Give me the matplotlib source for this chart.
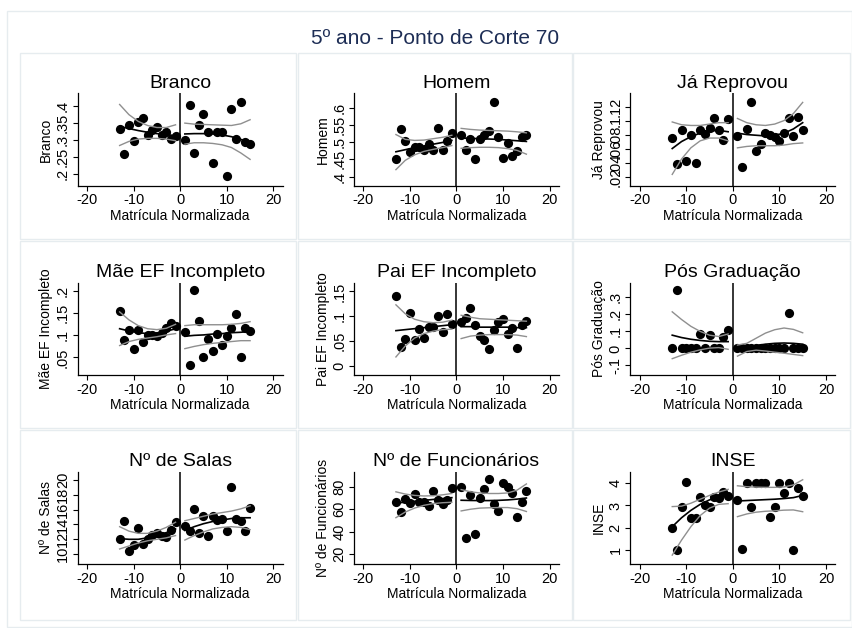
import matplotlib
matplotlib.use("Agg")
import matplotlib.pyplot as plt
from matplotlib.patches import Rectangle

plt.rcParams['font.family'] = ['Liberation Sans', 'DejaVu Sans']

# eixo x (matricula normalizada) comum a todos os paineis
x_esq = [-13, -12, -11, -10, -9, -8, -7, -6, -5, -4, -3, -2, -1]
x_dir = [1, 2, 3, 4, 5, 6, 7, 8, 9, 10, 11, 12, 13, 14, 15]
xf_esq = [-13, -11, -9, -7, -5, -3, -1]      # pontos das curvas ajustadas
xf_dir = [1, 3, 5, 7, 9, 11, 13, 15]

# Branco
branco_esq = [0.332, 0.259, 0.343, 0.298, 0.352, 0.364, 0.315, 0.330, 0.338, 0.315, 0.324, 0.303, 0.312]
branco_dir = [0.300, 0.404, 0.263, 0.345, 0.378, 0.323, 0.231, 0.323, 0.323, 0.193, 0.391, 0.303, 0.413, 0.293, 0.287]
branco_fit_esq = [0.340, 0.334, 0.328, 0.323, 0.319, 0.316, 0.313]
branco_sup_esq = [0.405, 0.375, 0.355, 0.343, 0.337, 0.337, 0.345]
branco_inf_esq = [0.284, 0.296, 0.303, 0.305, 0.305, 0.303, 0.298]
branco_fit_dir = [0.318, 0.319, 0.319, 0.318, 0.315, 0.310, 0.302, 0.292]
branco_sup_dir = [0.350, 0.347, 0.346, 0.345, 0.344, 0.343, 0.348, 0.360]
branco_inf_dir = [0.288, 0.292, 0.292, 0.290, 0.286, 0.278, 0.262, 0.243]

# Homem
homem_esq = [0.452, 0.537, 0.502, 0.471, 0.485, 0.485, 0.477, 0.495, 0.477, 0.540, 0.477, 0.504, 0.527]
homem_dir = [0.522, 0.477, 0.510, 0.452, 0.510, 0.520, 0.533, 0.616, 0.516, 0.453, 0.498, 0.459, 0.475, 0.516, 0.521]
homem_fit_esq = [0.472, 0.478, 0.484, 0.489, 0.494, 0.499, 0.505]
homem_sup_esq = [0.522, 0.508, 0.505, 0.506, 0.510, 0.514, 0.520]
homem_inf_esq = [0.420, 0.447, 0.463, 0.473, 0.479, 0.484, 0.490]
homem_fit_dir = [0.512, 0.511, 0.510, 0.509, 0.508, 0.506, 0.504, 0.502]
homem_sup_dir = [0.540, 0.537, 0.535, 0.534, 0.533, 0.532, 0.530, 0.527]
homem_inf_dir = [0.482, 0.484, 0.485, 0.485, 0.484, 0.481, 0.476, 0.465]

# Ja Reprovou
reprov_esq = [0.075, 0.038, 0.087, 0.042, 0.080, 0.040, 0.086, 0.081, 0.089, 0.103, 0.086, 0.072, 0.102]
reprov_dir = [0.078, 0.033, 0.088, 0.127, 0.057, 0.067, 0.082, 0.080, 0.077, 0.071, 0.082, 0.103, 0.078, 0.105, 0.086]
reprov_fit_esq = [0.060, 0.070, 0.077, 0.082, 0.085, 0.086, 0.084]
reprov_sup_esq = [0.098, 0.094, 0.093, 0.093, 0.095, 0.097, 0.097]
reprov_inf_esq = [0.023, 0.045, 0.061, 0.071, 0.075, 0.075, 0.071]
reprov_fit_dir = [0.082, 0.080, 0.079, 0.078, 0.079, 0.082, 0.088, 0.097]
reprov_sup_dir = [0.103, 0.097, 0.094, 0.093, 0.095, 0.100, 0.110, 0.126]
reprov_inf_dir = [0.061, 0.063, 0.064, 0.064, 0.064, 0.065, 0.067, 0.068]

# Mae EF Incompleto
mae_esq = [0.156, 0.089, 0.112, 0.069, 0.112, 0.085, 0.101, 0.101, 0.098, 0.106, 0.116, 0.127, 0.121]
mae_dir = [0.108, 0.033, 0.202, 0.132, 0.052, 0.091, 0.065, 0.102, 0.078, 0.098, 0.117, 0.148, 0.052, 0.117, 0.110]
mae_fit_esq = [0.115, 0.110, 0.106, 0.104, 0.105, 0.109, 0.115]
mae_sup_esq = [0.153, 0.135, 0.122, 0.115, 0.113, 0.116, 0.125]
mae_inf_esq = [0.077, 0.086, 0.091, 0.094, 0.097, 0.101, 0.104]
mae_fit_dir = [0.098, 0.100, 0.101, 0.103, 0.104, 0.106, 0.107, 0.109]
mae_sup_dir = [0.122, 0.124, 0.124, 0.124, 0.124, 0.125, 0.127, 0.131]
mae_inf_dir = [0.070, 0.075, 0.079, 0.082, 0.084, 0.086, 0.088, 0.088]

# Pai EF Incompleto
pai_esq = [0.141, 0.038, 0.055, 0.106, 0.053, 0.075, 0.056, 0.079, 0.079, 0.101, 0.069, 0.104, 0.085]
pai_dir = [0.089, 0.096, 0.116, 0.082, 0.060, 0.053, 0.033, 0.073, 0.088, 0.094, 0.065, 0.077, 0.036, 0.083, 0.090]
pai_fit_esq = [0.071, 0.073, 0.075, 0.077, 0.079, 0.081, 0.083]
pai_sup_esq = [0.123, 0.105, 0.094, 0.089, 0.087, 0.088, 0.092]
pai_inf_esq = [0.018, 0.040, 0.056, 0.065, 0.070, 0.073, 0.074]
pai_fit_dir = [0.079, 0.079, 0.078, 0.078, 0.078, 0.078, 0.077, 0.077]
pai_sup_dir = [0.102, 0.098, 0.095, 0.094, 0.093, 0.092, 0.091, 0.090]
pai_inf_dir = [0.055, 0.060, 0.062, 0.063, 0.063, 0.063, 0.062, 0.059]

# Pos Graduacao
pos_esq = [0.004, 0.341, 0.004, 0.004, 0.004, 0.004, 0.082, 0.004, 0.078, 0.004, 0.004, 0.069, 0.108]
pos_dir = [0.004, 0.004, 0.004, 0.004, 0.004, 0.004, 0.004, 0.004, 0.004, 0.004, 0.004, 0.210, 0.004, 0.004, 0.004]
pos_fit_esq = [0.078, 0.064, 0.054, 0.047, 0.042, 0.040, 0.040]
pos_sup_esq = [0.215, 0.170, 0.130, 0.100, 0.078, 0.070, 0.085]
pos_inf_esq = [-0.060, -0.040, -0.022, -0.008, 0.002, 0.005, -0.005]
pos_fit_dir = [-0.010, 0.005, 0.017, 0.025, 0.030, 0.032, 0.030, 0.025]
pos_sup_dir = [0.020, 0.030, 0.060, 0.090, 0.110, 0.120, 0.112, 0.092]
pos_inf_dir = [-0.045, -0.018, -0.010, -0.015, -0.022, -0.028, -0.035, -0.042]

# No de Salas
salas_esq = [12.07, 14.46, 10.45, 11.17, 13.56, 11.40, 11.98, 12.57, 12.79, 12.43, 12.25, 13.24, 14.37]
salas_dir = [13.78, 13.11, 16.08, 12.88, 15.14, 12.43, 15.14, 14.59, 14.68, 13.11, 19.10, 14.68, 14.46, 13.11, 16.17]
salas_fit_esq = [12.1, 12.0, 12.0, 12.2, 12.5, 12.9, 13.4]
salas_sup_esq = [13.7, 13.1, 12.8, 12.8, 13.1, 13.6, 14.3]
salas_inf_esq = [10.7, 11.1, 11.5, 11.8, 12.0, 12.2, 12.5]
salas_fit_dir = [13.2, 13.7, 14.1, 14.4, 14.6, 14.8, 14.9, 14.9]
salas_sup_dir = [14.5, 14.8, 15.1, 15.4, 15.6, 15.8, 16.1, 16.5]
salas_inf_dir = [11.9, 12.5, 13.0, 13.4, 13.6, 13.7, 13.6, 13.3]

# No de Funcionarios
func_esq = [66.6, 57.4, 69.3, 65.7, 73.5, 66.6, 66.6, 63.1, 76.4, 68.1, 65.1, 68.1, 78.5]
func_dir = [79.4, 34.6, 72.6, 38.1, 69.9, 77.9, 86.5, 64.5, 58.6, 83.6, 80.0, 74.1, 52.7, 66.6, 76.1]
func_fit_esq = [65.5, 66.3, 67.1, 67.9, 68.7, 69.5, 70.3]
func_sup_esq = [75.5, 73.5, 72.3, 71.8, 72.0, 72.8, 74.0]
func_inf_esq = [52.5, 57.5, 61.0, 63.5, 65.0, 65.8, 66.2]
func_fit_dir = [68.0, 67.8, 67.7, 67.7, 67.9, 68.3, 69.0, 70.0]
func_sup_dir = [77.5, 75.5, 74.5, 74.0, 74.0, 74.5, 77.0, 82.5]
func_inf_dir = [58.5, 60.0, 61.0, 61.3, 61.5, 61.5, 60.5, 58.0]

# INSE
inse_esq = [2.00, 1.03, 2.91, 4.04, 2.43, 2.46, 3.36, 3.03, 2.94, 3.39, 3.33, 3.60, 3.42]
inse_dir = [3.24, 1.06, 4.01, 2.91, 4.01, 4.01, 4.01, 2.49, 2.91, 4.01, 3.54, 4.01, 1.03, 3.79, 3.42]
inse_fit_esq = [2.05, 2.45, 2.78, 3.05, 3.25, 3.38, 3.45]
inse_sup_esq = [2.95, 2.97, 3.10, 3.28, 3.45, 3.60, 3.72]
inse_inf_esq = [0.78, 1.45, 2.05, 2.55, 2.88, 3.05, 3.08]
inse_fit_dir = [3.20, 3.22, 3.24, 3.26, 3.28, 3.31, 3.35, 3.45]
inse_sup_dir = [3.88, 3.84, 3.82, 3.81, 3.81, 3.83, 3.92, 4.15]
inse_inf_dir = [2.50, 2.62, 2.70, 2.74, 2.76, 2.79, 2.80, 2.72]

# ticks do eixo y (formato Stata)
ticks_branco = [0.2, 0.25, 0.3, 0.35, 0.4]
labels_branco = ['.2', '.25', '.3', '.35', '.4']
ticks_homem = [0.4, 0.45, 0.5, 0.55, 0.6]
labels_homem = ['.4', '.45', '.5', '.55', '.6']
ticks_reprov = [0.02, 0.04, 0.06, 0.08, 0.1, 0.12]
labels_reprov = ['.02', '.04', '.06', '.08', '.1', '.12']
ticks_mae = [0.05, 0.1, 0.15, 0.2]
labels_mae = ['.05', '.1', '.15', '.2']
ticks_pai = [0, 0.05, 0.1, 0.15]
labels_pai = ['0', '.05', '.1', '.15']
ticks_pos = [-0.1, 0, 0.1, 0.2, 0.3]
labels_pos = ['-.1', '0', '.1', '.2', '.3']
ticks_salas = [10, 12, 14, 16, 18, 20]
labels_salas = ['10', '12', '14', '16', '18', '20']
ticks_func = [20, 40, 60, 80]
labels_func = ['20', '40', '60', '80']
ticks_inse = [1, 2, 3, 4]
labels_inse = ['1', '2', '3', '4']

paineis = [
    ("Branco", branco_esq, branco_dir, branco_fit_esq, branco_sup_esq, branco_inf_esq,
     branco_fit_dir, branco_sup_dir, branco_inf_dir, ticks_branco, labels_branco, (0.165, 0.438)),
    ("Homem", homem_esq, homem_dir, homem_fit_esq, homem_sup_esq, homem_inf_esq,
     homem_fit_dir, homem_sup_dir, homem_inf_dir, ticks_homem, labels_homem, (0.373, 0.642)),
    ("Já Reprovou", reprov_esq, reprov_dir, reprov_fit_esq, reprov_sup_esq, reprov_inf_esq,
     reprov_fit_dir, reprov_sup_dir, reprov_inf_dir, ticks_reprov, labels_reprov, (0.0067, 0.139)),
    ("Mãe EF Incompleto", mae_esq, mae_dir, mae_fit_esq, mae_sup_esq, mae_inf_esq,
     mae_fit_dir, mae_sup_dir, mae_inf_dir, ticks_mae, labels_mae, (0.010, 0.219)),
    ("Pai EF Incompleto", pai_esq, pai_dir, pai_fit_esq, pai_sup_esq, pai_inf_esq,
     pai_fit_dir, pai_sup_dir, pai_inf_dir, ticks_pai, labels_pai, (-0.0188, 0.1676)),
    ("Pós Graduação", pos_esq, pos_dir, pos_fit_esq, pos_sup_esq, pos_inf_esq,
     pos_fit_dir, pos_sup_dir, pos_inf_dir, ticks_pos, labels_pos, (-0.157, 0.386)),
    ("Nº de Salas", salas_esq, salas_dir, salas_fit_esq, salas_sup_esq, salas_inf_esq,
     salas_fit_dir, salas_sup_dir, salas_inf_dir, ticks_salas, labels_salas, (8.65, 21.1)),
    ("Nº de Funcionários", func_esq, func_dir, func_fit_esq, func_sup_esq, func_inf_esq,
     func_fit_dir, func_sup_dir, func_inf_dir, ticks_func, labels_func, (11.1, 93.4)),
    ("INSE", inse_esq, inse_dir, inse_fit_esq, inse_sup_esq, inse_inf_esq,
     inse_fit_dir, inse_sup_dir, inse_inf_dir, ticks_inse, labels_inse, (0.373, 4.51)),
]

W, H = 853, 628
fig = plt.figure(figsize=(W / 100, H / 100), dpi=100)
fig.patch.set_facecolor('white')

def caixa(x0, y0, x1, y1):
    fig.patches.append(Rectangle((x0 / W, 1 - y1 / H), (x1 - x0) / W, (y1 - y0) / H,
                                 transform=fig.transFigure, fill=False,
                                 edgecolor='#e6ecef', lw=1.0))

caixa(7, 11, 852, 627)
col_caixa = [(20, 296), (298, 572), (573, 850)]
lin_caixa = [(53, 239), (241, 428), (430, 620)]
for (y0, y1) in lin_caixa:
    for (x0, x1) in col_caixa:
        caixa(x0, y0, x1, y1)

fig.text(435 / W, 1 - 38 / H, "5º ano - Ponto de Corte 70", ha='center', va='center',
         fontsize=15, color='#1d2d55')

col_left = [77.7, 354.0, 630.3]
row_top = [93.3, 282.7, 471.7]
ax_w, ax_h = 205.0, 92.5

for i, p in enumerate(paineis):
    (titulo, y_e, y_d, fe, se, ie, fd, sd, idr, yt, yl, ylim) = p
    r, c = divmod(i, 3)
    ax = fig.add_axes([col_left[c] / W, 1 - (row_top[r] + ax_h) / H, ax_w / W, ax_h / H])
    ax.scatter(x_esq, y_e, s=44, color='black', zorder=3, linewidths=0)
    ax.scatter(x_dir, y_d, s=44, color='black', zorder=3, linewidths=0)
    for xs, f, s_, i_ in ((xf_esq, fe, se, ie), (xf_dir, fd, sd, idr)):
        ax.plot(xs, s_, color='#8f8f8f', lw=1.0, zorder=4)
        ax.plot(xs, i_, color='#8f8f8f', lw=1.0, zorder=4)
        ax.plot(xs, f, color='black', lw=1.2, zorder=5)
    ax.axvline(0, color='black', lw=1.1, zorder=2)
    ax.set_xlim(-22, 22)
    ax.set_ylim(*ylim)
    ax.set_xticks([-20, -10, 0, 10, 20])
    ax.set_xticklabels(['-20', '-10', '0', '10', '20'])
    ax.set_yticks(yt)
    ax.set_yticklabels(yl, rotation=90, va='center')
    ax.spines['top'].set_visible(False)
    ax.spines['right'].set_visible(False)
    ax.spines['left'].set_linewidth(0.9)
    ax.spines['bottom'].set_linewidth(0.9)
    ax.tick_params(direction='out', length=3.5, width=0.8, labelsize=10.5, pad=2)
    ax.set_title(titulo, fontsize=14, pad=4)
    ax.set_xlabel("Matrícula Normalizada", fontsize=10, labelpad=1)
    ax.set_ylabel(titulo, fontsize=10, labelpad=2)

fig.savefig("out.png", dpi=100)
